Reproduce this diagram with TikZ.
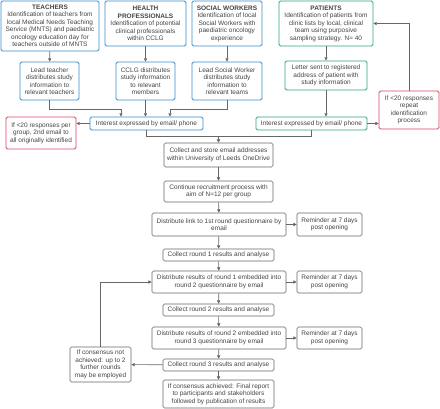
\documentclass[tikz,border=0pt]{standalone}
\usepackage{fontspec}
\setmainfont{Liberation Sans}
\usetikzlibrary{arrows.meta}
\definecolor{bluebd}{HTML}{3A8DC8}
\definecolor{tealbd}{HTML}{2EA58C}
\definecolor{redbd}{HTML}{D9455F}
\definecolor{greybd}{HTML}{666666}
\definecolor{txt}{HTML}{444444}

\begin{document}
\begin{tikzpicture}[x=1pt,y=-1pt,font=\fontsize{6.5}{7.5}\selectfont,text=txt]
  \tikzstyle{box}=[draw,rounded corners=1.5pt,line width=0.9pt,align=center,inner sep=1pt]
  \tikzstyle{bluebox}=[box,draw=bluebd]
  \tikzstyle{tealbox}=[box,draw=tealbd]
  \tikzstyle{redbox}=[box,draw=redbd]
  \tikzstyle{greybox}=[box,draw=greybd,line width=0.7pt]
  \tikzstyle{conn}=[draw=greybd,line width=0.6pt,-{Triangle[length=3.2pt,width=3.2pt]}]
  \tikzstyle{line}=[draw=greybd,line width=0.6pt]

  \useasboundingbox (0,0) rectangle (440,409);

  % recruitment groups
  \node[bluebox,minimum width=98pt,minimum height=50pt] (teach) at (50,26)
    {\textbf{TEACHERS}\\Identification of teachers from\\local Medical Needs Teaching\\Service (MNTS) and paediatric\\oncology education day for\\teachers outside of MNTS};
  \node[bluebox,minimum width=81pt,minimum height=45pt] (health) at (145.5,23.5)
    {\textbf{HEALTH}\\\textbf{PROFESSIONALS}\\Identification of potential\\clinical professionals\\within CCLG};
  \node[bluebox,minimum width=70pt,minimum height=45pt] (social) at (227,23.5)
    {\textbf{SOCIAL WORKERS}\\Identification of local\\Social Workers with\\paediatric oncology\\experience};
  \node[tealbox,minimum width=94pt,minimum height=45pt] (patient) at (326,23.5)
    {\textbf{PATIENTS}\\Identification of patients from\\clinic lists by local, clinical\\team using purposive\\sampling strategy. N= 40};

  \node[bluebox,minimum width=59pt,minimum height=38pt] (leadt) at (49.5,81)
    {Lead teacher\\distributes study\\information to\\relevant teachers};
  \node[bluebox,minimum width=59pt,minimum height=38pt] (cclg) at (145.5,81)
    {CCLG distributes\\study information\\to relevant\\members};
  \node[bluebox,minimum width=70pt,minimum height=38pt] (leadsw) at (227,81)
    {Lead Social Worker\\distributes study\\information to\\relevant teams};
  \node[tealbox,minimum width=82pt,minimum height=29pt] (letter) at (326,75.5)
    {Letter sent to registered\\address of patient with\\study information};

  \node[redbox,minimum width=60pt,minimum height=38pt] (again) at (409,110)
    {If <20 responses\\repeat\\identification\\process};
  \node[bluebox,minimum width=113pt,minimum height=13pt] (intb) at (146.5,123.5)
    {Interest expressed by email/ phone};
  \node[tealbox,minimum width=111pt,minimum height=13pt] (intt) at (311.5,123.5)
    {Interest expressed by email/ phone};
  \node[redbox,minimum width=70pt,minimum height=32pt] (second) at (41,133)
    {If <20 responses per\\group, 2nd email to\\all originally identified};

  % delphi rounds
  \node[greybox,minimum width=109pt,minimum height=24pt] (store) at (218.5,155)
    {Collect and store email addresses\\within University of Leeds OneDrive};
  \node[greybox,minimum width=109pt,minimum height=21pt] (cont) at (218.5,191.5)
    {Continue recruitment process with\\aim of N=12 per group};
  \node[greybox,minimum width=134pt,minimum height=23pt] (dist1) at (219,224.5)
    {Distribute link to 1st round questionnaire by\\email};
  \node[greybox,minimum width=65pt,minimum height=23pt] (rem1) at (329.5,224.5)
    {Reminder at 7 days\\post opening};
  \node[greybox,minimum width=111pt,minimum height=12pt] (col1) at (218.5,255)
    {Collect round 1 results and analyse};
  \node[greybox,minimum width=134pt,minimum height=22pt] (dist2) at (219,282)
    {Distribute results of round 1 embedded into\\round 2 questionnaire by email};
  \node[greybox,minimum width=65pt,minimum height=22pt] (rem2) at (329.5,282)
    {Reminder at 7 days\\post opening};
  \node[greybox,minimum width=111pt,minimum height=12pt] (col2) at (218.5,310)
    {Collect round 2 results and analyse};
  \node[greybox,minimum width=134pt,minimum height=22pt] (dist3) at (219,338)
    {Distribute results of round 2 embedded into\\round 3 questionnaire by email};
  \node[greybox,minimum width=65pt,minimum height=22pt] (rem3) at (329.5,338)
    {Reminder at 7 days\\post opening};
  \node[greybox,minimum width=111pt,minimum height=12pt] (col3) at (218.5,365)
    {Collect round 3 results and analyse};
  \node[greybox,minimum width=111pt,minimum height=28pt] (final) at (218.5,394)
    {If consensus achieved: Final report\\to participants and stakeholders\\followed by publication of results};
  \node[greybox,minimum width=61pt,minimum height=35pt] (further) at (100.5,364.5)
    {If consensus not\\achieved: up to 2\\further rounds\\may be employed};

  \coordinate (j1) at (121,109);
  \coordinate (j2) at (170,109);
  \coordinate (j3) at (218.5,136);

  \draw[conn] (teach) -- (leadt);
  \draw[conn] (health) -- (cclg);
  \draw[conn] (social) -- (leadsw);
  \draw[conn] (patient) -- (letter);

  \draw[conn] (leadt.south) |- (j1) -- (j1 |- intb.north);
  \draw[conn] (cclg.south) -- (cclg.south |- intb.north);
  \draw[conn] (leadsw.south) |- (j2) -- (j2 |- intb.north);
  \draw[conn] (letter.south) -- (letter.south |- intt.north);

  \draw[conn] (intb.west) -- (intb.west -| second.east);
  \draw[conn] (intt.east) -- (intt.east -| again.west);
  \draw[conn] (again.north) -- (again.north |- patient.east) -- (patient.east);

  \draw[line] (intb.south) |- (j3);
  \draw[line] (intt.south) |- (j3);
  \draw[conn] (j3) -- (store.north);

  \draw[conn] (store) -- (cont);
  \draw[conn] (cont) -- (dist1);
  \draw[conn] (dist1) -- (col1);
  \draw[conn] (col1) -- (dist2);
  \draw[conn] (dist2) -- (col2);
  \draw[conn] (col2) -- (dist3);
  \draw[conn] (dist3) -- (col3);
  \draw[conn] (col3) -- (final);

  \draw[conn] (dist1) -- (rem1);
  \draw[conn] (dist2) -- (rem2);
  \draw[conn] (dist3) -- (rem3);

  \draw[conn] (col3) -- (further);
  \draw[conn] (further.north) |- (dist2.west);
\end{tikzpicture}
\end{document}
